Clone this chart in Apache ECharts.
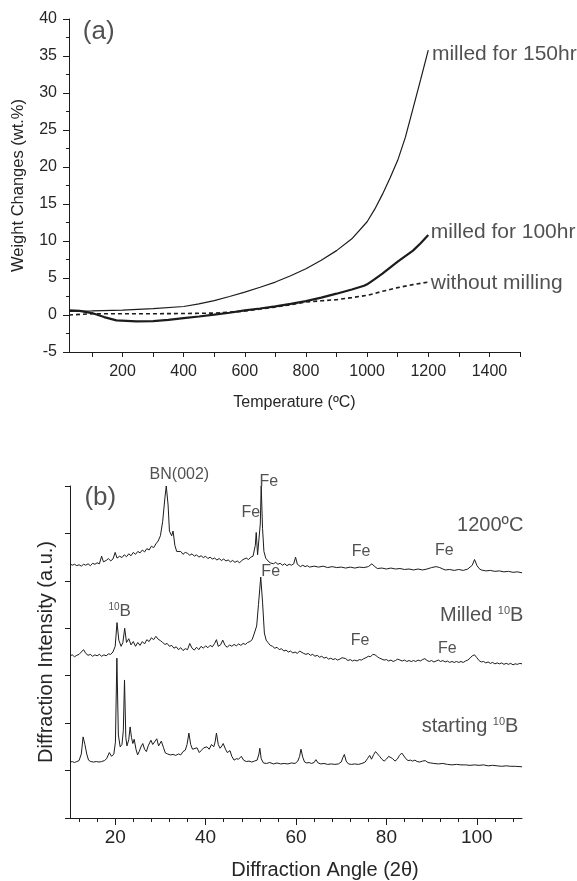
<!DOCTYPE html>
<html>
<head>
<meta charset="utf-8">
<script src="https://cdn.jsdelivr.net/npm/echarts@6/dist/echarts.min.js"></script>
<style>
  html, body { margin: 0; padding: 0; background: #fff; }
  #chart { width: 577px; height: 881px; }
</style>
</head>
<body>
<div id="chart"></div>
<script>
// ---- panel (a): weight change vs temperature ----
const tempTicks = [100, 200, 300, 400, 500, 600, 700, 800, 900, 1000, 1100, 1200, 1300, 1400, 1500];
const tempLabels = [200, 400, 600, 800, 1000, 1200, 1400];

const milled150 = [
  [25, 0.5], [100, 0.55], [200, 0.65], [300, 0.85], [400, 1.15], [450, 1.5], [500, 1.95],
  [550, 2.5], [600, 3.1], [650, 3.75], [700, 4.45], [750, 5.3], [800, 6.25], [850, 7.4],
  [900, 8.7], [950, 10.3], [1000, 12.6], [1025, 14.3], [1050, 16.3], [1075, 18.5],
  [1100, 20.9], [1125, 24.0], [1150, 27.9], [1175, 31.8], [1200, 35.8]
];
const milled100 = [
  [25, 0.62], [60, 0.55], [100, 0.26], [140, -0.28], [180, -0.73], [245, -0.86], [300, -0.82],
  [350, -0.65], [400, -0.42], [450, -0.2], [500, 0.04], [550, 0.3], [600, 0.62], [650, 0.88],
  [700, 1.16], [750, 1.5], [800, 1.88], [850, 2.35], [900, 2.88], [950, 3.45], [990, 3.95],
  [1000, 4.15], [1025, 4.85], [1050, 5.6], [1075, 6.4], [1100, 7.2], [1125, 7.95],
  [1150, 8.7], [1175, 9.7], [1200, 10.8]
];
const unmilled = [
  [25, 0.0], [100, 0.17], [200, 0.17], [300, 0.17], [400, 0.2], [500, 0.26], [550, 0.38],
  [600, 0.53], [650, 0.8], [700, 1.07], [750, 1.4], [800, 1.75], [850, 1.92], [900, 2.07],
  [950, 2.35], [1000, 2.65], [1050, 3.2], [1100, 3.7], [1150, 4.1], [1200, 4.45]
];

// [x, y, text, align, fontSize]
const notesA = [
  [122, 38.2, '(a)', 'center', 26],
  [1212, 35.3, 'milled for 150hr', 'left', 21],
  [1208, 11.2, 'milled for 100hr', 'left', 21],
  [1208, 4.3, 'without milling', 'left', 21]
];

// ---- panel (b): XRD patterns ----
const angleTicks = [12, 16, 20, 24, 28, 32, 36, 40, 44, 48, 52, 56, 60, 64, 68, 72, 76, 80, 84, 88, 92, 96, 100, 104, 108];
const angleLabels = [20, 40, 60, 80, 100];

const xrd1200 = [
  [10, 5.36], [10.5, 5.33], [11, 5.35], [11.5, 5.32], [12, 5.34], [12.5, 5.31], [13, 5.35], [13.5, 5.33],
  [14, 5.36], [14.5, 5.32], [15, 5.37], [15.5, 5.35], [16, 5.38], [16.5, 5.36], [17, 5.52], [17.4, 5.40],
  [18, 5.43], [18.5, 5.47], [19, 5.42], [19.5, 5.46], [20, 5.60], [20.4, 5.48], [21, 5.52], [21.5, 5.49],
  [22, 5.55], [22.5, 5.51], [23, 5.57], [23.5, 5.53], [24, 5.60], [24.5, 5.56], [25, 5.62], [25.5, 5.59],
  [26, 5.65], [26.5, 5.61], [27, 5.68], [27.5, 5.65], [28, 5.73], [28.5, 5.70], [29, 5.78], [29.5, 5.84],
  [30, 5.95], [30.5, 6.25], [31, 6.75], [31.3, 7.0], [31.7, 6.6], [32, 6.05], [32.5, 5.95], [32.8, 6.05],
  [33.2, 5.75], [33.6, 5.62], [34, 5.58], [34.5, 5.62], [35, 5.56], [35.5, 5.60], [36, 5.58], [36.5, 5.54],
  [37, 5.57], [37.5, 5.52], [38, 5.55], [38.5, 5.50], [39, 5.53], [39.5, 5.49], [40, 5.52], [40.5, 5.47],
  [41, 5.50], [41.5, 5.46], [42, 5.48], [42.5, 5.44], [43, 5.47], [43.5, 5.43], [44, 5.46], [44.5, 5.42],
  [45, 5.44], [45.5, 5.40], [46, 5.43], [46.5, 5.39], [47, 5.42], [47.5, 5.38], [48, 5.43], [48.5, 5.46],
  [49, 5.48], [49.5, 5.45], [50, 5.50], [50.5, 5.52], [51, 5.75], [51.2, 6.02], [51.5, 5.55], [51.8, 5.52],
  [52.1, 6.2], [52.3, 7.0], [52.6, 6.1], [52.9, 5.62], [53.3, 5.48], [53.8, 5.42], [54.3, 5.38], [55, 5.36],
  [55.5, 5.39], [56, 5.35], [56.5, 5.37], [57, 5.33], [57.5, 5.36], [58, 5.32], [58.5, 5.35], [59, 5.33],
  [59.5, 5.36], [59.9, 5.50], [60.3, 5.35], [61, 5.30], [61.5, 5.33], [62, 5.30], [62.5, 5.32], [63, 5.29],
  [64, 5.31], [65, 5.29], [66, 5.31], [67, 5.28], [68, 5.30], [69, 5.28], [70, 5.29], [71, 5.27],
  [72, 5.29], [73, 5.27], [74, 5.29], [75, 5.28], [76, 5.30], [76.8, 5.36], [77.3, 5.31], [78, 5.26],
  [79, 5.27], [80, 5.25], [81, 5.27], [82, 5.25], [83, 5.26], [84, 5.24], [85, 5.25], [86, 5.23],
  [87, 5.25], [88, 5.23], [89, 5.25], [90, 5.28], [91, 5.30], [91.8, 5.28], [92.5, 5.25], [93, 5.23],
  [94, 5.24], [95, 5.22], [96, 5.24], [97, 5.22], [98, 5.25], [99, 5.33], [99.5, 5.45], [100, 5.33],
  [100.5, 5.26], [101, 5.23], [102, 5.21], [103, 5.22], [104, 5.20], [105, 5.21], [106, 5.19], [107, 5.20],
  [108, 5.18], [109, 5.19], [110, 5.17]
];
const xrdMilled = [
  [10, 3.42], [10.5, 3.44], [11, 3.40], [11.5, 3.43], [12, 3.45], [12.5, 3.50], [13, 3.55], [13.5, 3.47],
  [14, 3.43], [14.5, 3.45], [15, 3.41], [15.5, 3.44], [16, 3.42], [16.5, 3.45], [17, 3.41], [17.5, 3.44],
  [18, 3.42], [18.5, 3.46], [19, 3.45], [19.5, 3.50], [20, 3.62], [20.4, 4.12], [20.8, 3.75], [21.3, 3.62],
  [21.7, 3.70], [22.1, 4.00], [22.5, 3.70], [23, 3.78], [23.5, 3.65], [24, 3.72], [24.5, 3.62], [25, 3.70],
  [25.5, 3.64], [26, 3.72], [26.5, 3.67], [27, 3.76], [27.5, 3.72], [28, 3.80], [28.5, 3.76], [29, 3.83],
  [29.5, 3.77], [30, 3.74], [30.5, 3.70], [31, 3.66], [31.5, 3.68], [32, 3.62], [32.5, 3.64], [33, 3.58],
  [33.5, 3.61], [34, 3.55], [34.5, 3.59], [35, 3.53], [35.5, 3.57], [36, 3.55], [36.5, 3.68], [37, 3.58],
  [37.5, 3.54], [38, 3.60], [38.5, 3.55], [39, 3.62], [39.5, 3.58], [40, 3.63], [40.5, 3.59], [41, 3.64],
  [41.5, 3.61], [42, 3.68], [42.4, 3.76], [42.8, 3.62], [43.3, 3.65], [43.8, 3.75], [44.3, 3.64], [44.8, 3.60],
  [45.3, 3.65], [45.8, 3.62], [46.3, 3.66], [46.8, 3.63], [47.3, 3.67], [47.8, 3.64], [48.3, 3.68], [48.8, 3.66],
  [49.3, 3.70], [49.8, 3.72], [50.3, 3.76], [50.8, 3.90], [51.3, 4.05], [51.7, 4.50], [52.2, 5.08], [52.6, 4.55],
  [53, 3.90], [53.4, 3.75], [53.8, 3.70], [54.3, 3.64], [54.8, 3.62], [55.3, 3.58], [55.8, 3.60], [56.3, 3.55],
  [56.8, 3.57], [57.3, 3.52], [57.8, 3.54], [58.3, 3.50], [58.8, 3.52], [59.3, 3.48], [59.8, 3.50], [60.3, 3.47],
  [60.8, 3.52], [61.2, 3.56], [61.7, 3.47], [62.2, 3.45], [62.7, 3.47], [63.2, 3.43], [63.7, 3.45], [64.2, 3.41],
  [64.7, 3.43], [65.2, 3.39], [65.7, 3.41], [66.2, 3.37], [66.7, 3.39], [67.2, 3.35], [67.7, 3.37], [68.2, 3.34],
  [68.7, 3.36], [69.2, 3.33], [69.7, 3.35], [70.2, 3.38], [70.6, 3.42], [71, 3.36], [71.5, 3.32], [72, 3.34],
  [72.5, 3.31], [73, 3.33], [73.5, 3.31], [74, 3.34], [74.5, 3.33], [75, 3.36], [75.5, 3.38], [76, 3.41],
  [76.5, 3.40], [77, 3.45], [77.5, 3.44], [78, 3.40], [78.5, 3.37], [79, 3.35], [79.5, 3.33], [80, 3.34],
  [80.5, 3.31], [81, 3.33], [81.5, 3.30], [82, 3.32], [82.5, 3.35], [83, 3.33], [83.5, 3.31], [84, 3.33],
  [84.5, 3.30], [85, 3.32], [85.5, 3.30], [86, 3.32], [86.5, 3.30], [87, 3.33], [87.5, 3.31], [88, 3.34],
  [88.5, 3.36], [89, 3.32], [89.5, 3.30], [90, 3.32], [90.5, 3.29], [91, 3.31], [91.5, 3.33], [92, 3.30],
  [92.5, 3.32], [93, 3.29], [93.5, 3.31], [94, 3.28], [94.5, 3.30], [95, 3.28], [95.5, 3.30], [96, 3.28],
  [96.5, 3.30], [97, 3.28], [97.5, 3.31], [98, 3.33], [98.5, 3.37], [99, 3.42], [99.5, 3.44], [100, 3.38],
  [100.5, 3.32], [101, 3.29], [101.5, 3.30], [102, 3.27], [102.5, 3.29], [103, 3.26], [103.5, 3.28], [104, 3.25],
  [104.5, 3.27], [105, 3.25], [105.5, 3.27], [106, 3.24], [106.5, 3.26], [107, 3.24], [107.5, 3.26], [108, 3.23],
  [108.5, 3.25], [109, 3.24], [109.5, 3.26], [110, 3.25]
];
const xrdStart = [
  [10, 1.18], [10.5, 1.19], [11, 1.17], [11.5, 1.19], [12, 1.21], [12.5, 1.35], [12.9, 1.71], [13.3, 1.55],
  [13.7, 1.35], [14.1, 1.22], [14.6, 1.19], [15.2, 1.18], [15.8, 1.19], [16.4, 1.18], [17, 1.19], [17.6, 1.21],
  [18.1, 1.25], [18.7, 1.38], [19.2, 1.30], [19.7, 1.35], [20.05, 1.6], [20.37, 3.37], [20.7, 1.75], [21.1, 1.50],
  [21.5, 1.55], [21.8, 1.85], [22.06, 2.91], [22.35, 1.70], [22.6, 1.52], [23, 1.65], [23.3, 1.92], [23.6, 1.70],
  [23.9, 1.57], [24.2, 1.66], [24.6, 1.45], [24.95, 1.33], [25.3, 1.40], [25.7, 1.50], [26.1, 1.57], [26.5, 1.45],
  [26.9, 1.40], [27.3, 1.52], [27.9, 1.64], [28.3, 1.55], [28.7, 1.57], [29.2, 1.67], [29.6, 1.52], [30.2, 1.62],
  [30.7, 1.48], [31.1, 1.37], [31.6, 1.35], [32.2, 1.33], [32.8, 1.34], [33.4, 1.32], [34, 1.35], [34.5, 1.33],
  [35, 1.40], [35.5, 1.43], [35.9, 1.55], [36.3, 1.79], [36.7, 1.55], [37.1, 1.45], [37.5, 1.42], [38.1, 1.48],
  [38.6, 1.38], [39.1, 1.43], [39.6, 1.48], [40.3, 1.50], [40.8, 1.45], [41.3, 1.55], [41.8, 1.50], [42.1, 1.60],
  [42.4, 1.79], [42.8, 1.55], [43.2, 1.47], [43.6, 1.52], [43.9, 1.57], [44.4, 1.45], [44.8, 1.38], [45.4, 1.42],
  [45.8, 1.30], [46.3, 1.22], [46.8, 1.25], [47.3, 1.24], [47.9, 1.30], [48.4, 1.22], [49, 1.19], [49.6, 1.20],
  [50.2, 1.18], [50.8, 1.20], [51.4, 1.22], [51.8, 1.35], [52.0, 1.47], [52.3, 1.25], [52.8, 1.16], [53.5, 1.15],
  [54.2, 1.17], [55, 1.14], [55.8, 1.16], [56.6, 1.14], [57.4, 1.15], [58.2, 1.14], [59, 1.16], [59.8, 1.15],
  [60.4, 1.20], [60.8, 1.30], [61.1, 1.45], [61.5, 1.28], [61.9, 1.18], [62.4, 1.16], [62.9, 1.17], [63.4, 1.15],
  [64, 1.17], [64.4, 1.23], [64.9, 1.16], [65.5, 1.14], [66.2, 1.15], [67, 1.13], [67.8, 1.14], [68.6, 1.13],
  [69.4, 1.14], [70, 1.18], [70.4, 1.28], [70.7, 1.34], [71.1, 1.20], [71.6, 1.14], [72.3, 1.13], [73, 1.14],
  [73.8, 1.13], [74.6, 1.15], [75.3, 1.18], [75.8, 1.25], [76.3, 1.32], [76.7, 1.24], [77.2, 1.34], [77.6, 1.40],
  [78, 1.38], [78.5, 1.30], [79, 1.24], [79.5, 1.20], [80, 1.24], [80.5, 1.30], [80.9, 1.33], [81.4, 1.25],
  [81.9, 1.20], [82.4, 1.24], [82.9, 1.32], [83.4, 1.37], [83.8, 1.33], [84.3, 1.25], [84.8, 1.21], [85.3, 1.22],
  [85.8, 1.20], [86.3, 1.22], [86.8, 1.19], [87.4, 1.18], [88, 1.20], [88.6, 1.21], [89.2, 1.17], [89.8, 1.16],
  [90.5, 1.15], [91.5, 1.14], [92.5, 1.15], [93.5, 1.13], [94.5, 1.12], [95.5, 1.13], [96.5, 1.12], [97.5, 1.12],
  [98.5, 1.11], [99.5, 1.12], [100.5, 1.11], [101.5, 1.12], [102.5, 1.10], [103.5, 1.11], [104.5, 1.10],
  [105.5, 1.09], [106.5, 1.10], [107.5, 1.09], [108.5, 1.09], [110, 1.08]
];

const notesB = [
  [16.7, 6.75, '(b)', 'center', 26],
  [34.2, 7.25, 'BN(002)', 'center', 16],
  [54.0, 7.1, 'Fe', 'center', 16],
  [50.0, 6.43, 'Fe', 'center', 16],
  [110.3, 6.16, '1200ºC', 'right', 20],
  [74.4, 5.61, 'Fe', 'center', 16],
  [92.8, 5.63, 'Fe', 'center', 16],
  [54.4, 5.19, 'Fe', 'center', 16],
  [110.3, 4.26, '{n|Milled }{s|10}{n|B}', 'right', 20],
  [21.0, 4.36, '{sm|10}{m|B}', 'center', 16],
  [74.2, 3.73, 'Fe', 'center', 16],
  [93.5, 3.58, 'Fe', 'center', 16],
  [109.2, 1.92, '{n|starting }{s|10}{n|B}', 'right', 20]
];

const FONT = '"Liberation Sans", Arial, sans-serif';
const INK = '#1c1c1c';
const TXT = '#262626';

function notes(list, xi, yi) {
  return {
    type: 'scatter',
    xAxisIndex: xi,
    yAxisIndex: yi,
    symbolSize: 0,
    silent: true,
    clip: false,
    z: 10,
    data: list.map(([x, y, text, align, size]) => ({
      value: [x, y],
      label: {
        show: true,
        position: 'inside',
        formatter: () => text,
        align: align,
        verticalAlign: 'middle',
        fontSize: size,
        fontFamily: FONT,
        color: TXT,
        rich: {
          n: { fontSize: 20, fontFamily: FONT, color: TXT },
          s: { fontSize: 11, fontFamily: FONT, color: TXT, verticalAlign: 'top' },
          m: { fontSize: 17, fontFamily: FONT, color: TXT },
          sm: { fontSize: 10, fontFamily: FONT, color: TXT, verticalAlign: 'top' }
        }
      }
    }))
  };
}

function line(data, xi, yi, width, type) {
  return {
    type: 'line',
    xAxisIndex: xi,
    yAxisIndex: yi,
    data: data,
    showSymbol: false,
    symbol: 'none',
    smooth: false,
    lineStyle: { color: INK, width: width, type: type || 'solid' },
    silent: true
  };
}

const axisLine = { show: true, onZero: false, lineStyle: { color: INK, width: 1 } };
const tickStyle = { color: INK, width: 1 };
const plain = (v) => String(v);

const chart = echarts.init(document.getElementById('chart'), null, { renderer: 'canvas' });
chart.setOption({
  backgroundColor: '#fff',
  animation: false,
  textStyle: { fontFamily: FONT },
  grid: [
    { left: 69, top: 19, width: 451, height: 333 },
    { left: 70, top: 486, width: 452, height: 332 }
  ],
  xAxis: [
    {
      gridIndex: 0, type: 'value', min: 25, max: 1500, position: 'bottom',
      axisLine: axisLine,
      axisTick: { show: true, inside: false, length: 5, lineStyle: tickStyle, customValues: tempTicks },
      axisLabel: { color: TXT, fontSize: 16, margin: 12, fontFamily: FONT, customValues: tempLabels, formatter: plain },
      splitLine: { show: false },
      name: 'Temperature (ºC)', nameLocation: 'middle', nameGap: 43,
      nameTextStyle: { color: TXT, fontSize: 16, fontFamily: FONT }
    },
    {
      gridIndex: 1, type: 'value', min: 10, max: 110, position: 'bottom',
      axisLine: axisLine,
      axisTick: { show: true, inside: false, length: 4, lineStyle: tickStyle, customValues: angleTicks },
      axisLabel: { show: false },
      splitLine: { show: false }
    },
    {
      gridIndex: 1, type: 'value', min: 10, max: 110, position: 'bottom',
      axisLine: { show: false, onZero: false },
      axisTick: { show: true, inside: false, length: 7, lineStyle: tickStyle, customValues: angleLabels },
      axisLabel: { color: TXT, fontSize: 19, margin: 10, fontFamily: FONT, customValues: angleLabels, formatter: plain },
      splitLine: { show: false },
      name: 'Diffraction Angle (2θ)', nameLocation: 'middle', nameGap: 42,
      nameTextStyle: { color: TXT, fontSize: 20, fontFamily: FONT, padding: [0, 0, 0, 58] }
    }
  ],
  yAxis: [
    {
      gridIndex: 0, type: 'value', min: -5, max: 40, interval: 5,
      axisLine: axisLine,
      axisTick: { show: true, inside: false, length: 6, lineStyle: tickStyle },
      minorTick: { show: true, splitNumber: 2, length: 3, lineStyle: tickStyle },
      axisLabel: { color: TXT, fontSize: 16, margin: 12, fontFamily: FONT },
      splitLine: { show: false },
      name: 'Weight Changes (wt.%)', nameLocation: 'middle', nameGap: 42,
      nameTextStyle: { color: TXT, fontSize: 16.5, fontFamily: FONT }
    },
    {
      gridIndex: 1, type: 'value', min: 0, max: 7, interval: 1,
      axisLine: axisLine,
      axisTick: { show: true, inside: false, length: 5, lineStyle: tickStyle },
      axisLabel: { show: false },
      splitLine: { show: false },
      name: 'Diffraction Intensity (a.u.)', nameLocation: 'middle', nameGap: 14,
      nameTextStyle: { color: TXT, fontSize: 20, fontFamily: FONT }
    }
  ],
  series: [
    line(unmilled, 0, 0, 1.6, [4, 3]),
    line(milled150, 0, 0, 1.2),
    line(milled100, 0, 0, 2.2),
    notes(notesA, 0, 0),
    line(xrd1200, 1, 1, 1),
    line(xrdMilled, 1, 1, 1),
    line(xrdStart, 1, 1, 1),
    notes(notesB, 1, 1)
  ]
});
</script>
</body>
</html>
